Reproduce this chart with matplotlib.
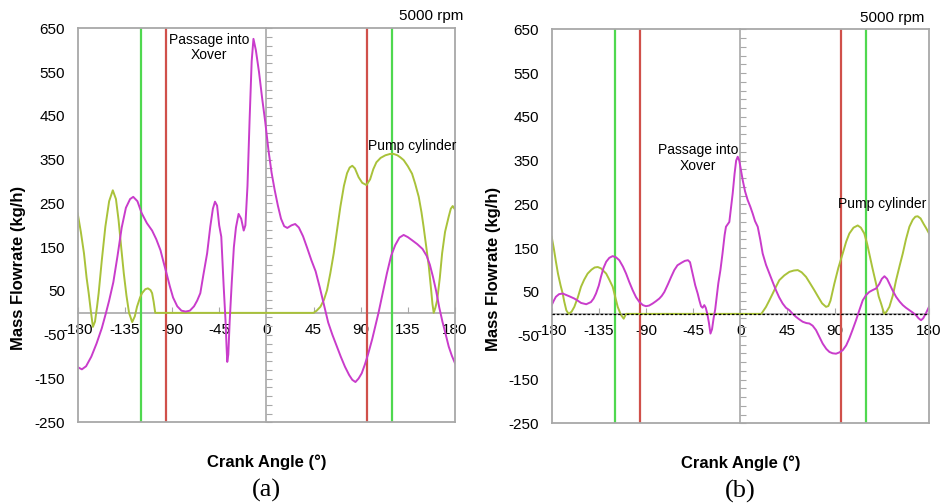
import numpy as np
import matplotlib
matplotlib.use("Agg")
import matplotlib.pyplot as plt

plt.rcParams["font.family"] = ["Liberation Sans", "DejaVu Sans"]
plt.rcParams["axes.unicode_minus"] = False

# ---- panel (a): 5000 rpm, pump/xover flow ----
a_mag_deg = [-180, -176, -172, -167, -162, -157, -153, -150, -146, -142, -138, -134, -130, -127,
             -123, -119, -114, -109, -105, -101, -98, -95, -92, -89, -85, -81, -77, -73, -69,
             -66, -63, -60, -56.5, -53.5, -51, -49, -47, -45, -43, -40.7, -39, -38, -37.3, -36.3,
             -35, -33, -31, -29, -26.5, -24, -21.6, -20, -18, -16, -14, -12.3, -10, -7, -4, -1,
             2, 5, 8, 11, 14, 17, 20, 24, 27.5, 31, 35, 39, 43, 47, 51, 55, 59, 63, 67, 71, 75,
             79, 82, 85, 88, 91, 94, 97, 101, 104, 107, 111, 115, 119, 123, 127, 131, 135, 139,
             144, 149, 153, 156, 159, 162, 165, 168, 171, 174, 177, 180]
a_mag_val = [-124, -129, -122, -100, -70, -35, 0, 28, 70, 130, 195, 240, 260, 265,
             255, 228, 205, 188, 168, 143, 115, 88, 60, 35, 15, 5, 3, 5, 15,
             28, 45, 88, 136, 197, 238, 254, 245, 200, 174, 60, -16, -75, -112, -95,
             -20, 70, 150, 195, 226, 215, 188, 200, 290, 440, 575, 626, 600, 550, 490, 435,
             372, 320, 280, 245, 215, 198, 194, 200, 203, 195, 175, 148, 120, 95, 58, 18, -22,
             -50, -75, -100, -123, -142, -153, -158, -150, -138, -118, -95, -60, -30, 0, 45, 90,
             130, 155, 172, 178, 173, 166, 157, 146, 130, 110, 82, 50, 12, -20, -48, -77, -98, -115]

a_grn_deg = [-180, -177, -174, -171.5, -169.5, -167.5, -165.5, -163.5, -161.5, -160, -157,
             -153.6, -150, -146.5, -143.5, -141, -138.5, -136, -133.5, -131, -128, -125.5,
             -123.4, -120.5, -118.6, -115.5, -113, -110.5, -109, -107.5, -106.5, -106, 45, 48,
             51.6, 55, 57.9, 61, 64.3, 67.5, 70.6, 74, 77, 79.5, 82, 84.5, 88, 91.5, 95.5, 99,
             102, 105, 109, 113.6, 118, 121.5, 125, 128, 131, 135, 139, 142, 145.4, 148, 150,
             152.5, 155, 157, 158.5, 159.7, 161.3, 163, 165.5, 167.7, 170.5, 174, 176, 177.8, 180]
a_grn_val = [227, 185, 136, 80, 45, 5, -32, -20, 15, 45, 120,
             197, 255, 280, 260, 212, 150, 90, 40, 0, -21, -8,
             14, 35, 45, 54, 56, 52, 45, 25, 8, 0, 0, 5,
             14, 30, 52, 90, 136, 190, 242, 290, 319, 332, 336, 330, 310, 297, 292, 305,
             328, 344, 354, 360, 363, 363, 360, 355, 349, 335, 318, 295, 265, 230, 197,
             152, 106, 58, 20, 0, 12, 29, 80, 136, 185, 220, 238, 244, 236]

# ---- panel (b) ----
b_mag_deg = [-180, -178, -176, -173, -169.5, -166, -163, -158.4, -155, -152, -147, -142.5, -140,
             -137.7, -135, -133, -130.5, -128, -125, -121.8, -118.5, -115.5, -112, -109, -106,
             -102.7, -99.5, -96.4, -93, -90, -87, -83.7, -80.5, -77.3, -75, -72.5, -69, -66,
             -63, -60, -56, -53, -50, -48, -45.5, -43, -40.7, -39, -37.5, -36, -34.4, -33,
             -31.5, -30, -28.5, -27, -25.5, -24, -22.5, -21, -19, -17, -15, -13.7, -12, -10.5,
             -9, -7.3, -5.5, -4, -2.5, -1, 0.5, 2.3, 4.5, 7, 9.5, 11.8, 14, 16.6, 19, 21.3,
             24.5, 27.7, 31, 34, 37, 40.4, 43.5, 46.8, 50, 53.2, 56.5, 59.5, 63, 65.9, 69,
             72.2, 75.5, 78.6, 82, 85, 88, 91.3, 94.5, 97.7, 101, 104, 107, 110.4, 113.5,
             116.8, 120, 123, 126, 129.5, 132.5, 135, 137.5, 140, 142.2, 145, 148.6, 152,
             155, 158, 161.3, 164.5, 167.6, 170, 172.4, 174.5, 177, 180]
b_mag_val = [20, 30, 39, 45, 46.5, 43, 40, 35, 30, 25, 22, 27, 35,
             46.5, 65, 84.5, 105, 119, 128, 132, 129, 122.6, 108, 92, 73,
             54, 38, 27.4, 20, 17.5, 19, 23.6, 29, 35, 41, 50, 68, 84.5,
             100, 111, 117, 121, 122.6, 118, 92, 65, 46.5, 30, 17.5, 14, 20, 14,
             0, -20, -45, -35, -10, 10, 40, 70, 100, 138, 180, 199, 205, 210,
             240, 275, 320, 350, 359, 350, 330, 305, 280, 260, 245, 229, 212, 199, 170, 138,
             112, 92, 72, 54, 38, 23.6, 14, 8.4, 0, -7, -13, -18, -21, -22, -27,
             -37, -53, -68, -80, -87, -90, -91, -88, -83, -72, -56, -37, -14.5, 8,
             31, 43, 50, 54, 58, 68, 80, 86, 80, 69, 55, 39, 28,
             20, 14, 8.4, 3, -3, -10, -14.5, -10, 1, 16]

b_grn_deg = [-180, -178, -176, -174, -171.5, -169.5, -168, -166, -163.8, -161, -158.4, -155,
             -152, -149, -145.7, -142, -139, -136, -133, -130.5, -128, -125, -121.8, -119.5,
             -117, -114, -111.3, -110, -109, 20, 22, 24.5, 27.5, 30.9, 34, 37.2, 42, 46.8, 51,
             54.8, 58.5, 62.7, 66.5, 70.6, 74.5, 78, 81.8, 84, 86, 89.7, 93.5, 97.7, 101, 104,
             108, 112, 115, 118.3, 121, 123, 126, 129.5, 132, 134.3, 136, 137.4, 139.5, 142.2,
             145.5, 148.6, 152, 155, 158, 161.3, 164.5, 167, 169.2, 172, 175, 177.5, 180]
b_grn_val = [176, 150, 120, 92, 65, 46.5, 28, 8, 0, 5, 16, 38,
             62, 78, 92, 101, 106, 107, 104, 98, 92, 78, 62, 40,
             16, -2, -11, -5, 0, 0, 7, 16, 30, 46.5, 62, 77, 88, 96, 99,
             100, 95, 84.5, 70, 54, 38, 24, 16, 18, 30, 69, 105, 138, 165, 183.5,
             197, 202, 197, 183.5, 160, 138, 105, 69, 40, 23.6, 10, 0, 5, 16,
             42, 77, 110, 138, 170, 199, 215, 222, 223, 218, 205, 195, 184]

red_marks = [-96, 96]
green_marks = [-120, 120]
x_ticks = [-180, -135, -90, -45, 0, 45, 90, 135, 180]
y_ticks = [-250, -150, -50, 50, 150, 250, 350, 450, 550, 650]

MAG = "#c93ccb"
OLIVE = "#a9c23a"
VGREEN = "#4fd84f"
VRED = "#d0504a"
FRAME = "#a8a8a8"


def draw_panel(ax, mag_x, mag_y, grn_x, grn_y, xover_pos, pump_pos, letter, dotted_zero=False):
    ax.set_xlim(-180, 180)
    ax.set_ylim(-250, 650)
    for s in ax.spines.values():
        s.set_color(FRAME)
        s.set_linewidth(1.3)
    ax.set_xticks([])
    ax.set_yticks(y_ticks)
    ax.tick_params(axis="y", length=0, pad=9, labelsize=11)

    # x axis through zero, ticks every 45
    secx = ax.secondary_xaxis(250 / 900)
    secx.set_xticks(x_ticks)
    secx.tick_params(direction="in", length=4, color=FRAME, pad=7, labelsize=11)
    secx.spines["bottom"].set_color(FRAME)
    secx.spines["bottom"].set_linewidth(1.2)
    # y axis through 0 deg with small ticks
    secy = ax.secondary_yaxis(0.5)
    secy.set_yticks(np.arange(-250, 651, 20))
    secy.tick_params(direction="out", length=4, color=FRAME, labelright=False, labelleft=False)
    for s in secy.spines.values():
        s.set_color(FRAME)
        s.set_linewidth(1.2)

    if dotted_zero:
        ax.axhline(0, color="black", linestyle=(0, (2, 1.5)), linewidth=0.9, zorder=3)

    for g in green_marks:
        ax.axvline(g, color=VGREEN, linewidth=1.6, zorder=1)
    for r in red_marks:
        ax.axvline(r, color=VRED, linewidth=1.6, zorder=1)

    ax.plot(grn_x, grn_y, color=OLIVE, linewidth=1.4, zorder=2)
    ax.plot(mag_x, mag_y, color=MAG, linewidth=1.4, zorder=2)

    ax.text(xover_pos[0], xover_pos[1], "Passage into\nXover", ha="center", va="center",
            fontsize=10, linespacing=1.1)
    ax.text(pump_pos[0], pump_pos[1], "Pump cylinder", ha="center", va="center", fontsize=10)

    ax.set_ylabel("Mass Flowrate (kg/h)", fontsize=12, fontweight="bold")
    ax.set_xlabel("Crank Angle (°)", fontsize=12, fontweight="bold")
    ax.xaxis.set_label_coords(0.5, -0.082)
    ax.text(0.5, -0.174, letter, transform=ax.transAxes, ha="center", va="center",
            fontsize=19, family=["Liberation Serif", "DejaVu Serif"])


fig = plt.figure(figsize=(9.44, 5.04), dpi=100)
ax_a = fig.add_axes([0.0823, 0.1621, 0.3997, 0.7817])
ax_b = fig.add_axes([0.5844, 0.1601, 0.3997, 0.7817])

draw_panel(ax_a, a_mag_deg, a_mag_val, a_grn_deg, a_grn_val, (-55, 607), (139, 382), "(a)")
ax_a.yaxis.set_label_coords(-0.137, 0.392)
ax_a.text(1.021, 1.031, "5000 rpm", transform=ax_a.transAxes, ha="right", va="center", fontsize=11)

draw_panel(ax_b, b_mag_deg, b_mag_val, b_grn_deg, b_grn_val, (-40.5, 356), (135.5, 251), "(b)",
           dotted_zero=True)
ax_b.yaxis.set_label_coords(-0.134, 0.392)
ax_b.text(0.987, 1.028, "5000 rpm", transform=ax_b.transAxes, ha="right", va="center", fontsize=11)

fig.savefig("out.png", dpi=100)
